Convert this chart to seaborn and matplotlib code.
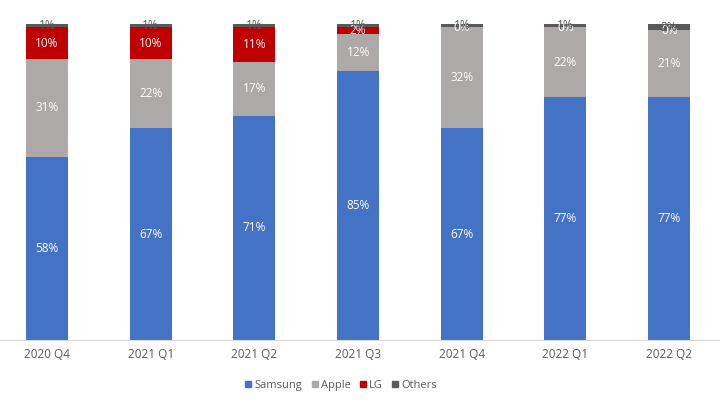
import matplotlib
matplotlib.use("Agg")
import matplotlib.pyplot as plt
import seaborn as sns
import pandas as pd
import numpy as np
from matplotlib.lines import Line2D

quarters = ["2020 Q4", "2021 Q1", "2021 Q2", "2021 Q3", "2021 Q4", "2022 Q1", "2022 Q2"]
samsung = [58, 67, 71, 85, 67, 77, 77]
apple = [31, 22, 17, 12, 32, 22, 21]
lg = [10, 10, 11, 2, 0, 0, 0]
others = [1, 1, 1, 1, 1, 1, 2]

series_names = ["Samsung", "Apple", "LG", "Others"]
series_vals = [samsung, apple, lg, others]
colors = ["#4472C4", "#ADA9A8", "#C00000", "#595959"]
label_colors = ["white", "white", "white", "#595959"]

sns.set_theme(style="white")
plt.rcParams['font.family'] = ['Open Sans', 'DejaVu Sans']

fig = plt.figure(figsize=(7.2, 4.05), dpi=100)
ax = fig.add_axes([0.0, 0.1605, 1.0, 0.780])

cum = np.cumsum(np.array(series_vals), axis=0)
# draw from top layer down so lower segments overlay
for k in range(len(series_names) - 1, -1, -1):
    df = pd.DataFrame({"quarter": quarters, "value": cum[k]})
    sns.barplot(data=df, x="quarter", y="value", order=quarters, color=colors[k],
                width=0.405, ax=ax, saturation=1, edgecolor="none", linewidth=0)

bottoms = np.vstack([np.zeros(len(quarters)), cum[:-1]])
for k, vals in enumerate(series_vals):
    for i, v in enumerate(vals):
        ymid = bottoms[k][i] + v / 2
        ax.text(i, ymid, f"{v}%", ha="center", va="center", fontsize=8.5,
                color=label_colors[k])

ax.set_xlim(-0.453, 6.49)
ax.set_ylim(0, 100)
ax.set_xlabel("")
ax.set_ylabel("")
ax.set_yticks([])
for s in ["top", "left", "right"]:
    ax.spines[s].set_visible(False)
ax.spines["bottom"].set_color("#D9D9D9")
ax.spines["bottom"].set_linewidth(0.8)
ax.tick_params(axis="x", labelsize=8.5, labelcolor="#595959", length=0, pad=6)

handles = [Line2D([0], [0], marker="s", linestyle="none", markersize=5,
                  markerfacecolor=c, markeredgecolor=c) for c in colors]
fig.legend(handles, series_names, loc="center", bbox_to_anchor=(0.472, 0.049),
           ncol=4, frameon=False, fontsize=8, handletextpad=0.05, handlelength=1.0,
           columnspacing=0.6, labelcolor="#595959")

fig.savefig("out.png", dpi=100)
